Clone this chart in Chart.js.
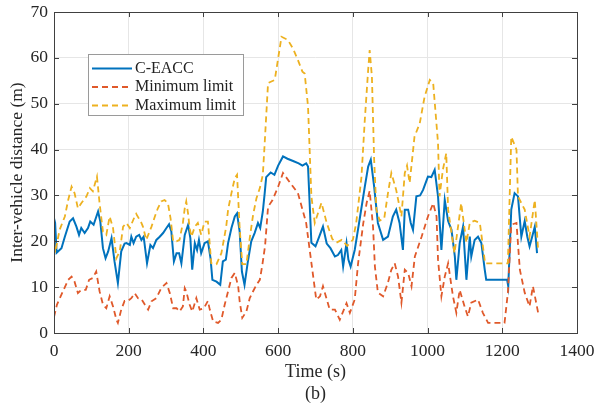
<!DOCTYPE html>
<html>
<head>
<meta charset="utf-8">
<script src="https://cdn.jsdelivr.net/npm/chart.js@4"></script>
<style>
  html, body { margin: 0; padding: 0; background: #fff; }
  #wrap { width: 597px; height: 407px; }
</style>
</head>
<body>
<div id="wrap"><canvas id="distChart" width="597" height="407"></canvas></div>
<script>
// axis ticks
const xTicks = [0, 200, 400, 600, 800, 1000, 1200, 1400];
const yTicks = [0, 10, 20, 30, 40, 50, 60, 70];

// C-EACC inter-vehicle distance (time in s, distance in m)
const eaccTime = [0, 3, 7, 20, 29, 42, 51, 60, 67, 73, 82, 91, 97, 106, 118, 124, 131, 138, 145, 154, 162,
  171, 180, 189, 194, 203, 207, 213, 220, 228, 234, 240, 249, 258, 265, 274, 283, 292, 301, 308, 314,
  321, 328, 335, 341, 350, 359, 365, 370, 377, 383, 388, 394, 403, 412, 419, 424, 435, 445, 452, 460,
  466, 475, 484, 490, 497, 503, 510, 519, 528, 537, 546, 552, 559, 564, 568, 580, 590, 600, 613, 625,
  640, 655, 665, 675, 680, 689, 700, 710, 720, 730, 740, 752, 760, 769, 774, 783, 788, 794, 805, 818,
  832, 841, 848, 857, 867, 881, 894, 907, 916, 925, 934, 939, 948, 955, 961, 970, 980, 988, 1001, 1010,
  1019, 1028, 1037, 1046, 1055, 1064, 1073, 1077, 1086, 1095, 1104, 1113, 1117, 1126, 1135, 1144, 1153, 1157, 1213, 1216,
  1224, 1233, 1242, 1251, 1260, 1267, 1273, 1280, 1287, 1293];
const eaccDist = [25, 24, 17.5, 18.5, 21, 24.3, 25, 23.2, 21.4, 22.9, 21.8, 22.9, 24.3, 23.6, 26.5, 24.3, 18.5, 16.3, 17.8, 20.7, 15.6,
  10.9, 17.8, 19.5, 19.6, 19.2, 21, 19.6, 21, 21.4, 20.3, 21, 15.2, 19.2, 18.5, 20.3, 21, 21.8, 22.9, 23.7, 22.2,
  15.6, 17.4, 17.4, 15.2, 21.4, 23.6, 20.7, 13.8, 19.6, 18.1, 20.3, 17.4, 19.6, 20, 16.3, 11.6, 11.2, 10.5, 15.6, 16,
  19.6, 22.9, 25.4, 26.1, 22.1, 13.4, 10.5, 15.6, 20, 21.8, 24, 22.9, 26.5, 30.5, 34, 35, 34.5, 36.5, 38.5, 38,
  37.5, 37, 36.5, 37, 36.3, 19.7, 18.9, 21, 23.2, 19.5, 18.5, 16.7, 17, 18.1, 14.5, 19.6, 16, 14.5, 18.1, 24.7,
  31.9, 36.3, 37.8, 31.9, 24, 20.3, 21, 25.4, 26.9, 24, 18.1, 26.9, 26.9, 24, 22.5, 29.8, 30, 31.2, 34.1, 34,
  35.6, 29.8, 18.1, 29, 24.4, 22.5, 16.7, 11.6, 19.6, 23.2, 11.6, 21, 16.7, 20.3, 21, 19.6, 13.8, 11.6, 11.6, 10.2,
  26.9, 30.5, 29.8, 21, 24.4, 21, 18.9, 21, 23.2, 17.4];

// Minimum limit
const minTime = [0, 8, 24, 38, 47, 55, 64, 73, 85, 94, 104, 113, 122, 131, 140, 149, 158, 167, 171, 180,
  189, 198, 207, 216, 225, 234, 243, 252, 261, 274, 287, 301, 310, 319, 328, 336, 345, 350, 354, 363,
  370, 381, 390, 401, 412, 417, 426, 439, 448, 457, 466, 475, 484, 493, 497, 504, 515, 524, 533, 542,
  551, 558, 565, 573, 585, 600, 613, 630, 653, 675, 689, 702, 712, 720, 738, 752, 765, 783, 792, 805,
  814, 828, 837, 845, 854, 859, 867, 881, 894, 903, 912, 921, 930, 939, 948, 957, 966, 984, 1001, 1015,
  1024, 1028, 1037, 1046, 1055, 1068, 1077, 1086, 1099, 1108, 1117, 1135, 1148, 1162, 1206, 1215, 1224, 1238, 1247, 1260,
  1273, 1282, 1296];
const minDist = [3.5, 6.2, 9.1, 11.6, 12.3, 11.2, 8.7, 9.4, 9.4, 11.6, 12, 13.4, 9.1, 6.2, 5.4, 8, 5.8, 2.9, 2.2, 5.1,
  7, 7, 7.6, 8.7, 7.6, 7.4, 6.2, 5.1, 6.9, 7.6, 9.8, 10.9, 8.7, 5.4, 5.4, 4.7, 5.8, 9.8, 9.1, 6.2,
  4.7, 7.6, 5.1, 5.4, 7, 5.1, 2.5, 2.2, 2.9, 6.2, 9.1, 12, 13.1, 10.2, 6.9, 3.3, 4.7, 7.6, 9.1, 10.5,
  11.6, 15, 19, 27.5, 29, 31.9, 34.9, 33, 30.5, 24, 15.3, 7.3, 8, 10.2, 5.1, 5.1, 2.9, 6.5, 4.4, 7.3,
  15.2, 24, 28.4, 31, 23.2, 14.5, 8.8, 8, 11, 13.8, 15.2, 12.3, 6.6, 13.8, 13.1, 10.2, 16.7, 21, 25.4, 28.3,
  25.4, 16, 8, 12.3, 15.2, 8, 4.4, 9.4, 5.8, 3.6, 6.6, 7.3, 4.4, 2.2, 2.2, 8.8, 23.6, 24, 13.8, 8.8,
  5.8, 10.2, 4.4];

// Maximum limit
const maxTime = [0, 3, 15, 29, 38, 47, 55, 64, 73, 87, 96, 104, 115, 122, 131, 140, 149, 158, 167, 176,
  185, 194, 203, 216, 220, 234, 238, 247, 261, 270, 278, 287, 296, 305, 312, 319, 328, 336, 345, 350,
  354, 359, 363, 368, 377, 385, 394, 403, 412, 421, 435, 448, 461, 466, 475, 484, 490, 497, 504, 515,
  524, 533, 542, 551, 559, 564, 573, 591, 609, 626, 640, 653, 665, 671, 680, 689, 698, 716, 730, 745,
  756, 770, 785, 800, 809, 823, 832, 841, 845, 851, 857, 863, 872, 884, 894, 903, 916, 930, 939, 945,
  952, 965, 979, 992, 1006, 1015, 1028, 1032, 1041, 1050, 1055, 1072, 1090, 1104, 1113, 1126, 1140, 1154, 1215, 1224,
  1238, 1242, 1260, 1273, 1287, 1296];
const maxDist = [21, 17.5, 22.5, 25.4, 29, 31.9, 30.5, 27.2, 28.3, 29.8, 31.6, 30.9, 34.1, 28.3, 22.1, 21.4, 25.4, 22.9, 16.3, 17.8,
  23.2, 24, 22.9, 25.4, 26, 24, 23.2, 20.3, 23.2, 25.4, 27.2, 28.7, 29, 28.3, 25, 20, 20, 20.3, 24, 27.2,
  28.7, 26, 22.9, 21, 23.2, 24, 21.4, 24.3, 24.3, 15.2, 15, 17.4, 23.2, 26.9, 30.5, 33.8, 34.5, 22.9, 15, 15,
  20.7, 25.8, 29.4, 31.6, 34.5, 41.4, 54.5, 55.2, 64.6, 63.9, 62, 59.5, 57, 56.6, 49.4, 29.8, 24, 28.4, 24, 20.5,
  19.7, 20.3, 19, 20.3, 24, 34, 46.5, 57.4, 61.7, 55.9, 37.8, 26.9, 24.5, 25, 30.5, 34.9, 31.2, 25.4, 34.9, 36.5,
  32.7, 42.8, 45.7, 51.5, 55.2, 54.5, 41.4, 29.8, 35.6, 39.2, 26.9, 17.4, 28.3, 19.7, 24, 24.5, 24, 15.2, 15.2, 42.8,
  40, 29.8, 26.9, 21, 29, 18.1];

function toPoints(times, values) {
    return times.map(function(t, i) { return { x: t, y: values[i] }; });
}

const serif = "'Liberation Serif', 'Times New Roman', serif";

// box around the axes, inward tick marks and the legend inside the plot
const framePlugin = {
    id: 'frame',
    afterDatasetsDraw: function(chart) {
        const ctx = chart.ctx;
        const a = chart.chartArea;
        const xs = chart.scales.x;
        const ys = chart.scales.y;
        ctx.save();
        ctx.strokeStyle = '#404040';
        ctx.lineWidth = 1;
        ctx.beginPath();
        xTicks.forEach(function(v) {
            const px = Math.round(xs.getPixelForValue(v)) + 0.5;
            ctx.moveTo(px, a.bottom); ctx.lineTo(px, a.bottom - 5);
            ctx.moveTo(px, a.top); ctx.lineTo(px, a.top + 5);
        });
        yTicks.forEach(function(v) {
            const py = Math.round(ys.getPixelForValue(v)) + 0.5;
            ctx.moveTo(a.left, py); ctx.lineTo(a.left + 5, py);
            ctx.moveTo(a.right, py); ctx.lineTo(a.right - 5, py);
        });
        ctx.stroke();
        ctx.strokeRect(Math.round(a.left) + 0.5, Math.round(a.top) + 0.5,
            Math.round(a.right - a.left), Math.round(a.bottom - a.top));
        ctx.restore();
    },
    afterDraw: function(chart) {
        const ctx = chart.ctx;
        const box = { x: 88.5, y: 54.5, w: 155, h: 61 };
        const rows = [0, 1, 2];
        ctx.save();
        ctx.fillStyle = '#fff';
        ctx.fillRect(box.x, box.y, box.w, box.h);
        ctx.strokeStyle = '#9a9a9a';
        ctx.lineWidth = 1;
        ctx.strokeRect(box.x, box.y, box.w, box.h);
        ctx.font = '16px ' + serif;
        ctx.textBaseline = 'middle';
        rows.forEach(function(i) {
            const ds = chart.data.datasets[i];
            const y = 68.5 + i * 18.5;
            ctx.strokeStyle = ds.borderColor;
            ctx.lineWidth = ds.borderWidth;
            ctx.setLineDash(ds.borderDash || []);
            ctx.beginPath();
            ctx.moveTo(92, y); ctx.lineTo(132, y);
            ctx.stroke();
            ctx.fillStyle = '#222';
            ctx.fillText(ds.label, 135, y);
        });
        ctx.restore();
    }
};

const ctx = document.getElementById('distChart');

new Chart(ctx, {
    type: 'line',
    data: {
        datasets: [
            {
                label: 'C-EACC',
                data: toPoints(eaccTime, eaccDist),
                borderColor: '#0072BD',
                borderWidth: 2,
                pointRadius: 0,
                tension: 0,
                order: 3
            },
            {
                label: 'Minimum limit',
                data: toPoints(minTime, minDist),
                borderColor: '#E0592A',
                borderWidth: 1.8,
                borderDash: [6, 4],
                pointRadius: 0,
                tension: 0,
                order: 2
            },
            {
                label: 'Maximum limit',
                data: toPoints(maxTime, maxDist),
                borderColor: '#EDB120',
                borderWidth: 1.8,
                borderDash: [6, 4],
                pointRadius: 0,
                tension: 0,
                order: 1
            }
        ]
    },
    options: {
        responsive: false,
        devicePixelRatio: 1,
        animation: false,
        layout: {
            padding: { left: 0, right: 20, top: 12, bottom: 0 }
        },
        scales: {
            x: {
                type: 'linear',
                min: 0,
                max: 1400,
                afterBuildTicks: function(scale) {
                    scale.ticks = xTicks.map(function(v) { return { value: v }; });
                },
                afterFit: function(scale) {
                    scale.height = 74;
                    scale.paddingLeft = 0;
                    scale.paddingRight = 0;
                },
                grid: { color: '#e6e6e6', drawTicks: false },
                border: { display: false },
                ticks: {
                    padding: 8,
                    color: '#262626',
                    font: { family: serif, size: 17.5 },
                    callback: function(value) { return String(value); }
                },
                title: {
                    display: true,
                    text: ['Time (s)', '(b)'],
                    color: '#262626',
                    padding: { top: 0, bottom: 2 },
                    font: { family: serif, size: 18, lineHeight: 1.2 }
                }
            },
            y: {
                min: 0,
                max: 70,
                afterBuildTicks: function(scale) {
                    scale.ticks = yTicks.map(function(v) { return { value: v }; });
                },
                afterFit: function(scale) {
                    scale.width = 54;
                    scale.paddingTop = 0;
                    scale.paddingBottom = 0;
                },
                grid: { color: '#e6e6e6', drawTicks: false },
                border: { display: false },
                ticks: {
                    padding: 6,
                    color: '#262626',
                    font: { family: serif, size: 17.5 },
                    callback: function(value) { return String(value); }
                },
                title: {
                    display: true,
                    text: 'Inter-vehicle distance (m)',
                    color: '#262626',
                    padding: { top: 7, bottom: 0 },
                    font: { family: serif, size: 17.5 }
                }
            }
        },
        plugins: {
            legend: { display: false },
            tooltip: { enabled: false }
        }
    },
    plugins: [framePlugin]
});
</script>
</body>
</html>
